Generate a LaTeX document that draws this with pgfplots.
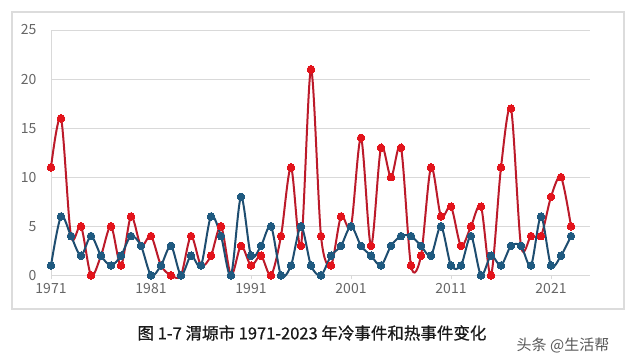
\documentclass[border=0pt]{standalone}
\usepackage{fontspec}
\setmainfont{Noto Sans CJK SC}
\newfontfamily\capfont[FakeBold=0.7]{Noto Sans CJK SC}
\usepackage{pgfplots}
\pgfplotsset{compat=1.18}
\definecolor{hotred}{HTML}{E3141C}
\definecolor{hotline}{HTML}{BC1A2A}
\definecolor{coldblue}{HTML}{1F5A80}
\definecolor{coldline}{HTML}{1E4D70}
\definecolor{gridc}{HTML}{D9D9D9}
\definecolor{framec}{HTML}{DCDCDC}
\definecolor{tickc}{HTML}{666666}
\pgfplotstableread{
year hot
1971 11
1972 16
1973 4
1974 5
1975 0
1976 2
1977 5
1978 1
1979 6
1980 3
1981 4
1982 1
1983 0
1984 0
1985 4
1986 1
1987 2
1988 5
1989 0
1990 3
1991 1
1992 2
1993 0
1994 4
1995 11
1996 3
1997 21
1998 4
1999 1
2000 6
2001 5
2002 14
2003 3
2004 13
2005 10
2006 13
2007 1
2008 2
2009 11
2010 6
2011 7
2012 3
2013 5
2014 7
2015 0
2016 11
2017 17
2018 3
2019 4
2020 4
2021 8
2022 10
2023 5
}\hottable
\pgfplotstableread{
year cold
1971 1
1972 6
1973 4
1974 2
1975 4
1976 2
1977 1
1978 2
1979 4
1980 3
1981 0
1982 1
1983 3
1984 0
1985 2
1986 1
1987 6
1988 4
1989 0
1990 8
1991 2
1992 3
1993 5
1994 0
1995 1
1996 5
1997 1
1998 0
1999 2
2000 3
2001 5
2002 3
2003 2
2004 1
2005 3
2006 4
2007 4
2008 3
2009 2
2010 5
2011 1
2012 1
2013 4
2014 0
2015 2
2016 1
2017 3
2018 3
2019 1
2020 6
2021 1
2022 2
2023 4
}\coldtable
\begin{document}
\begin{tikzpicture}[x=1pt,y=1pt]
\fill[white] (0,0) rectangle (640,361);
\draw[framec, line width=1.2pt] (12,52) rectangle (624,349);
\begin{axis}[
  at={(51pt,85.7pt)}, anchor=south west,
  scale only axis, width=539pt, height=245.3pt,
  xmin=1971, xmax=2024.9, ymin=0, ymax=25,
  ytick={0,5,...,25},
  xtick={1971,1981,...,2021},
  /pgf/number format/1000 sep={},
  /pgf/number format/assume math mode=true,
  axis x line*=bottom, axis y line*=left,
  axis line style={draw=gridc, line width=0.9pt, -},
  ymajorgrids, grid style={draw=gridc, line width=0.8pt},
  ytick style={draw=none},
  xtick style={draw=gridc, line width=0.9pt},
  tick align=outside, major tick length=4pt,
  ticklabel style={font=\fontsize{14}{14}\selectfont, text=tickc},
  yticklabel style={xshift=-7pt},
  xticklabel style={yshift=-1pt},
  clip=false,
]
\addplot[hotline, line width=2pt, smooth, tension=0.5, mark=*, mark size=3.8pt,
  mark options={fill=hotred, draw=hotred, line width=0pt}] table[x=year,y=hot] {\hottable};
\addplot[coldline, line width=2pt, smooth, tension=0.5, mark=*, mark size=3.8pt,
  mark options={fill=coldblue, draw=coldblue, line width=0pt}] table[x=year,y=cold] {\coldtable};
\end{axis}
\node[font=\capfont\fontsize{16.5}{16.5}\selectfont, text=black!90] at (312,28) {图 1-7 渭塬市 1971-2023 年冷事件和热事件变化};
\node[font=\fontsize{15}{15}\selectfont, text=black!65] at (563,16) {头条 @生活帮};
\end{tikzpicture}
\end{document}
